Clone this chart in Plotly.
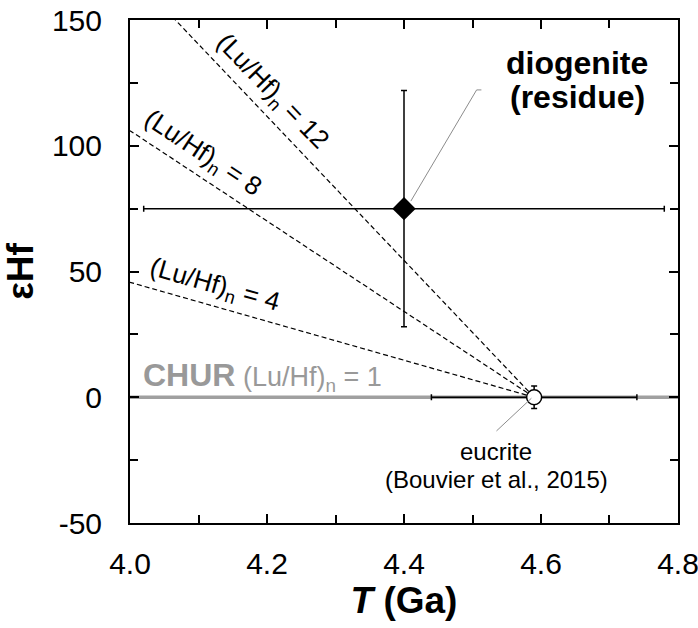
import plotly.graph_objects as go

FONT = "Arial, Liberation Sans, sans-serif"

# ---- data ----
chur_x = [4.0, 4.8]
chur_y = [0, 0]

# model evolution lines from eucrite point back in time
lu12_x = [4.59, 4.0]
lu12_y = [0, 169]
lu8_x = [4.59, 4.0]
lu8_y = [0, 106]
lu4_x = [4.59, 4.0]
lu4_y = [0, 45.7]

diog_x = [4.40]
diog_y = [75]
diog_xerr = [0.38]
diog_yerr = [47]

euc_x = [4.59]
euc_y = [0]
euc_xerr = [0.15]
euc_yerr = [4.5]

diog_leader_x = [4.41, 4.506, 4.513]
diog_leader_y = [78, 122.2, 122.2]
euc_leader_x = [4.586, 4.535]
euc_leader_y = [-0.4, -13.4]

x_tick_vals = [4.0, 4.2, 4.4, 4.6, 4.8]
x_tick_text = ["4.0", "4.2", "4.4", "4.6", "4.8"]
y_tick_vals = [-50, 0, 50, 100, 150]
y_tick_text = ["-50", "0", "50", "100", "150"]

fig = go.Figure()

fig.add_trace(go.Scatter(x=chur_x, y=chur_y, mode="lines",
                         line=dict(color="#a0a0a0", width=3.5), hoverinfo="skip"))
for xs, ys in [(lu12_x, lu12_y), (lu8_x, lu8_y), (lu4_x, lu4_y)]:
    fig.add_trace(go.Scatter(x=xs, y=ys, mode="lines",
                             line=dict(color="black", width=1.2, dash="5px,3px")))

fig.add_trace(go.Scatter(
    x=diog_x, y=diog_y, mode="markers",
    marker=dict(symbol="diamond", size=18, color="black"),
    error_x=dict(type="data", array=diog_xerr, color="black", thickness=1.5, width=3),
    error_y=dict(type="data", array=diog_yerr, color="black", thickness=1.5, width=3),
))
fig.add_trace(go.Scatter(
    x=euc_x, y=euc_y, mode="markers",
    marker=dict(symbol="circle", size=15, color="white", line=dict(color="black", width=1.5)),
    error_x=dict(type="data", array=euc_xerr, color="black", thickness=1.5, width=3),
    error_y=dict(type="data", array=euc_yerr, color="black", thickness=1.5, width=3),
))
fig.add_trace(go.Scatter(x=diog_leader_x, y=diog_leader_y, mode="lines",
                         line=dict(color="#8c8c8c", width=1)))
fig.add_trace(go.Scatter(x=euc_leader_x, y=euc_leader_y, mode="lines",
                         line=dict(color="#8c8c8c", width=1)))

ann = []
def add(text, x, y, size, angle=0, color="black", xanchor="center", yanchor="middle"):
    ann.append(dict(text=text, x=x, y=y, xref="x", yref="y", showarrow=False,
                    textangle=angle, font=dict(family=FONT, size=size, color=color),
                    xanchor=xanchor, yanchor=yanchor))

add("(Lu/Hf)<sub>n</sub> = 12", 4.207, 121.5, 26, angle=46)
add("(Lu/Hf)<sub>n</sub> = 8", 4.106, 97, 26, angle=33.4)
add("(Lu/Hf)<sub>n</sub> = 4", 4.124, 44.5, 26, angle=15.9)
add("<b>CHUR</b><span style='font-size:27px'> (Lu/Hf)<sub>n</sub> = 1</span>", 4.016, 8.3, 32,
    color="#999999", xanchor="left")
add("<b>diogenite</b>", 4.653, 133.0, 32)
add("<b>(residue)</b>", 4.653, 119.2, 32)
add("eucrite", 4.535, -21.4, 24)
add("(Bouvier et al., 2015)", 4.535, -32.9, 24)

fig.update_layout(
    width=698, height=628,
    margin=dict(l=130, r=20, t=20, b=105, autoexpand=False),
    paper_bgcolor="white", plot_bgcolor="white",
    showlegend=False,
    font=dict(family=FONT, color="black"),
    annotations=ann,
)
fig.update_xaxes(
    range=[4.0, 4.80001], tickmode="array", tickvals=x_tick_vals, ticktext=x_tick_text,
    ticks="inside", ticklen=9, tickwidth=1.5, tickcolor="black",
    minor=dict(dtick=0.1, tick0=4.0, ticks="inside", ticklen=8, tickwidth=1.5, tickcolor="black"),
    showline=True, linewidth=2, linecolor="black", mirror="allticks",
    showgrid=False, zeroline=False, ticklabeloverflow="allow", automargin=False,
    tickfont=dict(family=FONT, size=30, color="black"), ticklabelstandoff=13,
    title=dict(text="<b><i>T</i> (Ga)</b>", font=dict(family=FONT, size=37, color="black"), standoff=4),
)
fig.update_yaxes(
    range=[-50, 150], tickmode="array", tickvals=y_tick_vals, ticktext=y_tick_text,
    ticks="inside", ticklen=9, tickwidth=1.5, tickcolor="black",
    minor=dict(dtick=25, tick0=0, ticks="inside", ticklen=8, tickwidth=1.5, tickcolor="black"),
    showline=True, linewidth=2, linecolor="black", mirror="allticks",
    showgrid=False, zeroline=False, ticklabeloverflow="allow", automargin=False,
    tickfont=dict(family=FONT, size=30, color="black"), ticklabelstandoff=20,
    title=dict(text="<b>εHf</b>", font=dict(family=FONT, size=37, color="black"), standoff=10),
)

fig.write_html("out.html")
